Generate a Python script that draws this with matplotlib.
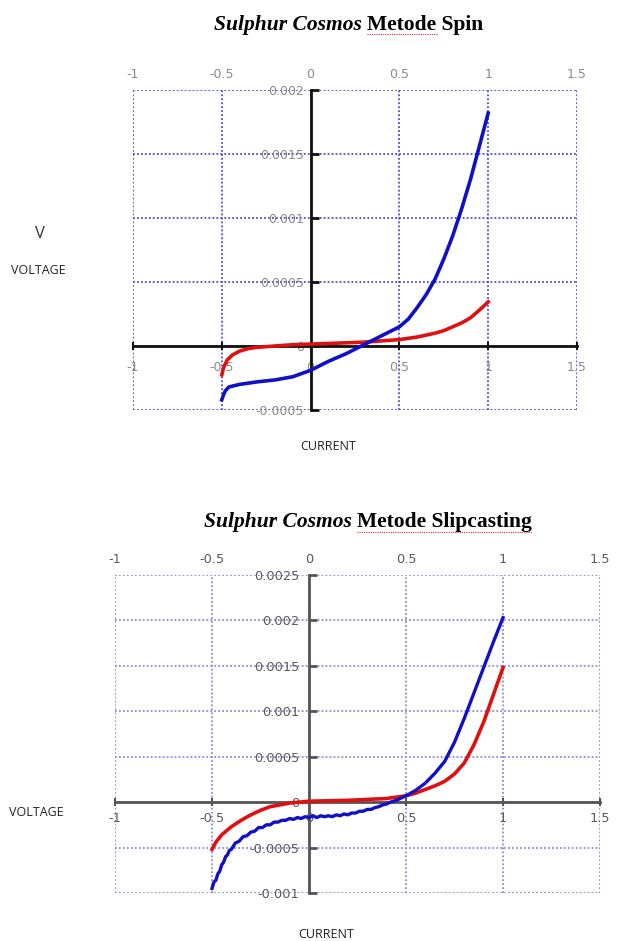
import matplotlib
matplotlib.use("Agg")
import matplotlib.pyplot as plt
import matplotlib.transforms as mtransforms
from matplotlib.lines import Line2D

# ---------------- data ----------------
x_ticks = [-1, -0.5, 0, 0.5, 1, 1.5]
x_tick_labels = ["-1", "-0.5", "0", "0.5", "1", "1.5"]

spin_y_ticks = [-0.0005, 0, 0.0005, 0.001, 0.0015, 0.002]
spin_y_tick_labels = ["-0.0005", "0", "0.0005", "0.001", "0.0015", "0.002"]

slip_y_ticks = [-0.001, -0.0005, 0, 0.0005, 0.001, 0.0015, 0.002, 0.0025]
slip_y_tick_labels = ["-0.001", "-0.0005", "0", "0.0005", "0.001", "0.0015", "0.002", "0.0025"]

spin_red_x = [-0.5, -0.49, -0.47, -0.44, -0.4, -0.35, -0.3, -0.2, -0.1, 0, 0.1, 0.2, 0.3,
              0.4, 0.5, 0.6, 0.7, 0.75, 0.8, 0.85, 0.9, 0.95, 1.0]
spin_red_y = [-0.000225, -0.00017, -0.00011, -0.00007, -0.00004, -0.00002, -0.00001, 0.0,
              0.00001, 0.000015, 0.00002, 0.000025, 0.00003, 0.00004, 0.00005, 0.00007,
              0.0001, 0.00012, 0.00015, 0.00018, 0.00022, 0.00028, 0.000345]

spin_blue_x = [-0.5, -0.49, -0.48, -0.46, -0.43, -0.4, -0.3, -0.2, -0.1, 0, 0.1, 0.2, 0.3,
               0.4, 0.5, 0.55, 0.6, 0.65, 0.7, 0.75, 0.8, 0.85, 0.9, 0.95, 1.0]
spin_blue_y = [-0.00042, -0.00038, -0.00035, -0.00032, -0.00031, -0.0003, -0.00028,
               -0.000265, -0.00024, -0.00019, -0.00012, -0.00006, 0.00001, 0.00008,
               0.00015, 0.00021, 0.0003, 0.0004, 0.00052, 0.00068, 0.00086, 0.00107,
               0.0013, 0.00156, 0.00182]

slip_red_x = [-0.5, -0.48, -0.45, -0.4, -0.35, -0.3, -0.25, -0.2, -0.1, 0, 0.1, 0.2, 0.3,
              0.4, 0.5, 0.55, 0.6, 0.65, 0.7, 0.75, 0.8, 0.85, 0.9, 0.95, 1.0]
slip_red_y = [-0.00052, -0.00044, -0.00036, -0.00027, -0.0002, -0.00014, -0.00009,
              -0.00005, -0.00001, 0.00001, 0.000015, 0.00002, 0.00003, 0.00004, 0.00007,
              0.0001, 0.00014, 0.00018, 0.00023, 0.00031, 0.00043, 0.00063, 0.00088,
              0.00118, 0.00148]

slip_blue_x = [-0.5, -0.49, -0.48, -0.47, -0.46, -0.45, -0.44, -0.43, -0.42, -0.41, -0.4,
               -0.38, -0.36, -0.34, -0.32, -0.3, -0.28, -0.26, -0.24, -0.22, -0.2, -0.18,
               -0.16, -0.14, -0.12, -0.1, -0.08, -0.06, -0.04, -0.02, 0, 0.02, 0.04, 0.06,
               0.08, 0.1, 0.12, 0.14, 0.16, 0.18, 0.2, 0.22, 0.24, 0.26, 0.28, 0.3, 0.32,
               0.34, 0.36, 0.38, 0.4, 0.42, 0.45, 0.5, 0.55, 0.6, 0.65, 0.7, 0.75, 0.8,
               0.85, 0.9, 0.95, 1.0]
slip_blue_y = [-0.00095, -0.00088, -0.00086, -0.00079, -0.00076, -0.00069, -0.00066,
               -0.0006, -0.00058, -0.00053, -0.00052, -0.00045, -0.00043, -0.00038,
               -0.00037, -0.00033, -0.00032, -0.00028, -0.00028, -0.00025, -0.00025,
               -0.00022, -0.00022, -0.0002, -0.0002, -0.00018, -0.00019, -0.00017,
               -0.00018, -0.00016, -0.00017, -0.00015, -0.00017, -0.00015, -0.00016,
               -0.00015, -0.00016, -0.00014, -0.00015, -0.00013, -0.00014, -0.00012,
               -0.00012, -0.0001, -0.0001, -0.00008, -0.00008, -0.00006, -0.00005,
               -0.00003, -0.00002, 0.0, 0.00002, 0.00007, 0.00013, 0.00021, 0.00032,
               0.00045, 0.00066, 0.00092, 0.0012, 0.00148, 0.00176, 0.00203]

# ---------------- layout ----------------
W, H = 620, 941
fig = plt.figure(figsize=(W / 100, H / 100), dpi=100)


def rect(left, top, right, bottom):
    return [left / W, 1 - bottom / H, (right - left) / W, (bottom - top) / H]


def fx(x):
    return x / W


def fy(y):
    return 1 - y / H


def style_axes(ax, yticks, ylabels, ylim, grid_color, axis_color, label_color,
               fs, xpad, ypad, top_shift_px):
    ax.set_xlim(-1, 1.5)
    ax.set_ylim(*ylim)
    ax.set_xticks(x_ticks)
    ax.set_xticklabels(x_tick_labels)
    ax.set_yticks(yticks)
    ax.set_yticklabels(ylabels)
    ax.grid(True, color=grid_color, linestyle=(0, (1, 1.2)), linewidth=1.3)
    ax.set_axisbelow(True)
    ax.spines["top"].set_visible(False)
    ax.spines["right"].set_visible(False)
    ax.spines["left"].set_position(("data", 0))
    ax.spines["bottom"].set_position(("data", 0))
    for s in ("left", "bottom"):
        ax.spines[s].set_color(axis_color)
        ax.spines[s].set_linewidth(2)
        ax.spines[s].set_zorder(1.5)
    ax.tick_params(axis="x", which="both", top=False, labeltop=True, bottom=True,
                   direction="inout", length=6, width=1.5, color=axis_color,
                   labelsize=fs, labelcolor=label_color, pad=xpad)
    ax.tick_params(axis="y", direction="in", length=6, width=2, color=axis_color,
                   labelsize=fs, labelcolor=label_color, pad=ypad)
    shift = mtransforms.ScaledTranslation(0, top_shift_px / 100, fig.dpi_scale_trans)
    for t in ax.xaxis.get_major_ticks():
        t.label2.set_transform(t.label2.get_transform() + shift)
    return ax


# ---------------- top chart: Spin ----------------
ax1 = fig.add_axes(rect(133, 90, 577, 410))
style_axes(ax1, spin_y_ticks, spin_y_tick_labels, (-0.0005, 0.002),
           "#4a4ad8", "#111111", "#8a8a8a", 9, 8, 5, -6)
ax1.plot(spin_red_x, spin_red_y, color="#e01010", linewidth=2.6, zorder=3)
ax1.plot(spin_blue_x, spin_blue_y, color="#1010c8", linewidth=2.6, zorder=3)

# ---------------- bottom chart: Slipcasting ----------------
ax2 = fig.add_axes(rect(115, 575, 600, 893))
style_axes(ax2, slip_y_ticks, slip_y_tick_labels, (-0.001, 0.0025),
           "#8a8ae0", "#555555", "#5a5a5a", 9.3, 4, 7, -1)
ax2.plot(slip_red_x, slip_red_y, color="#e01010", linewidth=2.6, zorder=3)
ax2.plot(slip_blue_x, slip_blue_y, color="#1010c8", linewidth=2.4, zorder=3)

# ---------------- titles ----------------
serif = ["Liberation Serif", "DejaVu Serif"]
fig.text(fx(362), fy(25), "Sulphur Cosmos", ha="right", va="center",
         fontsize=15.5, fontweight="bold", fontstyle="italic", family=serif)
fig.text(fx(367), fy(25), "Metode Spin", ha="left", va="center",
         fontsize=15.5, fontweight="bold", family=serif)
fig.text(fx(352), fy(522), "Sulphur Cosmos", ha="right", va="center",
         fontsize=15.5, fontweight="bold", fontstyle="italic", family=serif)
fig.text(fx(357), fy(522), "Metode Slipcasting", ha="left", va="center",
         fontsize=15.5, fontweight="bold", family=serif)

# spell-check style underlines
fig.add_artist(Line2D([fx(367), fx(438)], [fy(34), fy(34)], color="#e03030",
                      linewidth=0.8, linestyle=(0, (1, 1))))
fig.add_artist(Line2D([fx(357), fx(532)], [fy(532), fy(532)], color="#e03030",
                      linewidth=0.8, linestyle=(0, (1, 1))))

# ---------------- axis captions ----------------
sans = ["Open Sans", "DejaVu Sans"]
fig.text(fx(40), fy(234), "V", ha="center", va="center", fontsize=12, color="#333333", family=sans)
fig.text(fx(38), fy(271), "VOLTAGE", ha="center", va="center", fontsize=9, color="#222222", family=sans)
fig.text(fx(328), fy(447), "CURRENT", ha="center", va="center", fontsize=9, color="#222222", family=sans)
fig.text(fx(36), fy(812), "VOLTAGE", ha="center", va="center", fontsize=9, color="#222222", family=sans)
fig.text(fx(326), fy(935), "CURRENT", ha="center", va="center", fontsize=9, color="#222222", family=sans)

fig.savefig("out.png", dpi=100)
